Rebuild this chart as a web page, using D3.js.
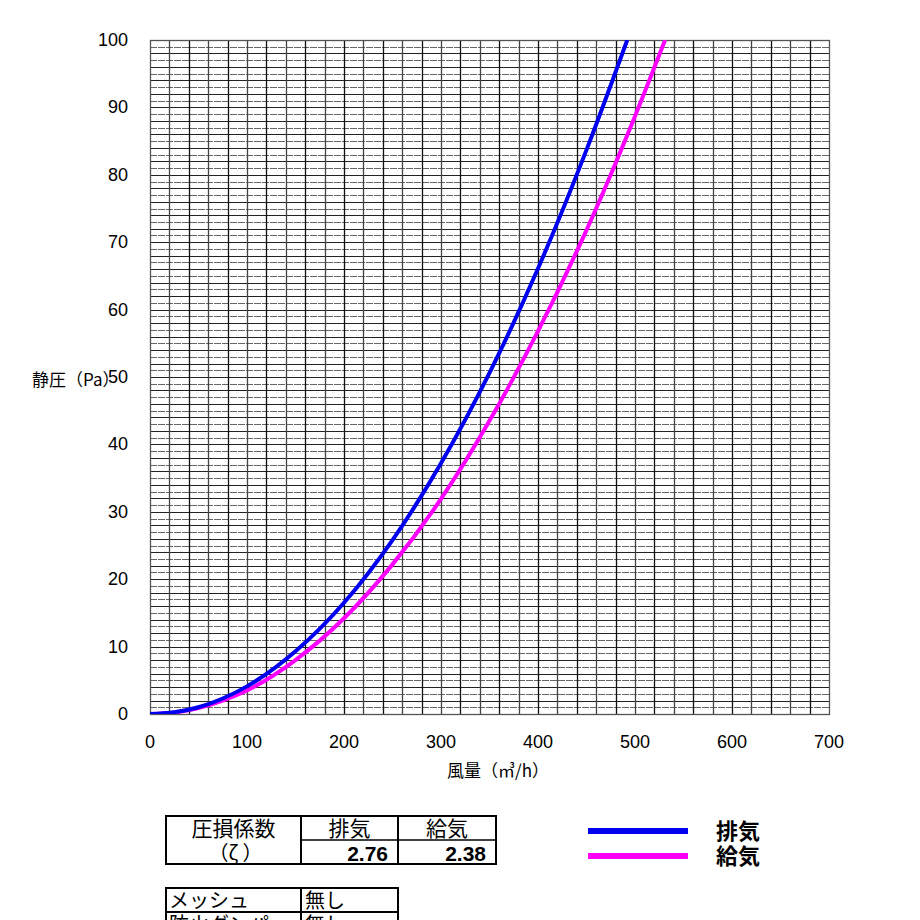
<!DOCTYPE html>
<html>
<head>
<meta charset="utf-8">
<script src="https://cdn.jsdelivr.net/npm/d3@7"></script>
<style>
  body { margin:0; background:#fff; }
  svg text { font-family: "Liberation Sans", Arial, "Noto Sans CJK JP", sans-serif; }
  .jp { font-family: "Noto Sans CJK JP", sans-serif; }
</style>
</head>
<body>
<svg id="chart" width="920" height="920"></svg>
<script>
// flow (m3/h) vs static pressure (Pa)
var exhaustFlow = [0, 25, 50, 75, 100, 150, 200, 250, 300, 350, 400, 450, 492];
var exhaustPa   = [0, 0.26, 1.0, 2.3, 4.1, 9.3, 16.5, 25.8, 37.2, 50.6, 66.1, 83.7, 100];
var supplyFlow  = [0, 25, 50, 75, 100, 150, 200, 250, 300, 350, 400, 450, 500, 531];
var supplyPa    = [0, 0.22, 0.9, 2.0, 3.5, 8.0, 14.2, 22.2, 31.9, 43.5, 56.8, 71.8, 88.7, 100];

var xTicks = [0, 100, 200, 300, 400, 500, 600, 700];
var yTicks = [0, 10, 20, 30, 40, 50, 60, 70, 80, 90, 100];

var seriesNames  = ["排気", "給気"];
var seriesColors = ["#0000f0", "#ff00ff"];
var zeta = ["2.76", "2.38"];
var options = [["メッシュ", "無し"], ["防火ダンパー", "無し"]];

var conf = {
    left:150, right:829, top:40, bottom:714
};

var svg = d3.select("#chart");

var x = d3.scaleLinear().domain([0, 700]).range([conf.left, conf.right]);
var y = d3.scaleLinear().domain([0, 100]).range([conf.bottom, conf.top]);

var grid = svg.append("g");
// horizontal grid every 1 Pa
d3.range(1, 100).forEach(function(v){
    grid.append("line")
        .attr("x1", conf.left).attr("x2", conf.right)
        .attr("y1", Math.round(y(v)) + 0.5).attr("y2", Math.round(y(v)) + 0.5)
        .attr("stroke", v % 2 === 0 ? "#222" : "#666")
        .attr("stroke-width", 1)
        .style("stroke-dasharray", v % 2 === 0 ? null : "7,1");
});
// vertical grid every 20 m3/h
d3.range(20, 700, 20).forEach(function(v){
    grid.append("line")
        .attr("y1", conf.top).attr("y2", conf.bottom)
        .attr("x1", Math.round(x(v)) + 0.5).attr("x2", Math.round(x(v)) + 0.5)
        .attr("stroke", v % 40 === 0 ? "#111" : "#444")
        .attr("stroke-width", 1.3);
});
grid.append("rect")
    .attr("x", conf.left + 0.5).attr("y", conf.top + 0.5)
    .attr("width", conf.right - conf.left).attr("height", conf.bottom - conf.top)
    .attr("fill", "none").attr("stroke", "#555").attr("stroke-width", 1.3);

// tick labels
svg.append("g").selectAll("text").data(yTicks).enter().append("text")
    .attr("x", 128).attr("y", function(d){ return y(d) + 6; })
    .attr("text-anchor", "end").attr("font-size", 18)
    .text(function(d){ return d; });
svg.append("g").selectAll("text").data(xTicks).enter().append("text")
    .attr("x", function(d){ return x(d); }).attr("y", 748)
    .attr("text-anchor", "middle").attr("font-size", 18)
    .text(function(d){ return d; });

// axis titles
svg.append("text").attr("class", "jp")
    .attr("x", 32).attr("y", 386).attr("font-size", 17)
    .text("静圧（Pa）");
svg.append("text").attr("class", "jp")
    .attr("x", 447).attr("y", 777).attr("font-size", 17)
    .text("風量（㎥/h）");

// curves
svg.append("defs").append("clipPath").attr("id", "plotclip")
    .append("rect").attr("x", conf.left).attr("y", conf.top)
    .attr("width", conf.right - conf.left).attr("height", conf.bottom - conf.top);

var line = d3.line().curve(d3.curveMonotoneX)
    .x(function(d){ return x(d[0]); })
    .y(function(d){ return y(d[1]); });

var curves = [d3.zip(exhaustFlow, exhaustPa), d3.zip(supplyFlow, supplyPa)];
// supply drawn first so exhaust sits on top
[1, 0].forEach(function(i){
    svg.append("path")
        .datum(curves[i])
        .attr("clip-path", "url(#plotclip)")
        .attr("fill", "none")
        .attr("stroke", seriesColors[i])
        .attr("stroke-width", 4)
        .attr("d", line);
});

// coefficient table
var t1 = svg.append("g");
var tbl = {x0:166, x1:301, x2:398, x3:496, y0:816, y1:840, y2:864};
t1.append("rect").attr("x", tbl.x0).attr("y", tbl.y0)
    .attr("width", tbl.x3 - tbl.x0).attr("height", tbl.y2 - tbl.y0)
    .attr("fill", "none").attr("stroke", "#000").attr("stroke-width", 2);
[tbl.x1, tbl.x2].forEach(function(cx){
    t1.append("line").attr("x1", cx).attr("x2", cx).attr("y1", tbl.y0).attr("y2", tbl.y2)
        .attr("stroke", "#000").attr("stroke-width", 2);
});
t1.append("line").attr("x1", tbl.x1).attr("x2", tbl.x3).attr("y1", tbl.y1).attr("y2", tbl.y1)
    .attr("stroke", "#000").attr("stroke-width", 1.5);
t1.append("text").attr("class", "jp").attr("x", (tbl.x0 + tbl.x1)/2).attr("y", 836)
    .attr("text-anchor", "middle").attr("font-size", 21).text("圧損係数");
t1.append("text").attr("class", "jp").attr("x", (tbl.x0 + tbl.x1)/2 + 2).attr("y", 860)
    .attr("text-anchor", "middle").attr("font-size", 20).text("（ζ ）");
seriesNames.forEach(function(n, i){
    var cx0 = i === 0 ? tbl.x1 : tbl.x2;
    var cx1 = i === 0 ? tbl.x2 : tbl.x3;
    t1.append("text").attr("class", "jp").attr("x", (cx0 + cx1)/2).attr("y", 836)
        .attr("text-anchor", "middle").attr("font-size", 21).text(n);
    t1.append("text").attr("x", cx1 - 10).attr("y", 861)
        .attr("text-anchor", "end").attr("font-size", 21).attr("font-weight", "bold")
        .text(zeta[i]);
});

// option table (cut off by the bottom edge)
var t2 = svg.append("g");
var ox = [166, 301, 398];
options.forEach(function(row, r){
    var ry = 888 + r*24;
    t2.append("rect").attr("x", ox[0]).attr("y", ry).attr("width", ox[2] - ox[0]).attr("height", 24)
        .attr("fill", "none").attr("stroke", "#000").attr("stroke-width", 2);
    t2.append("line").attr("x1", ox[1]).attr("x2", ox[1]).attr("y1", ry).attr("y2", ry + 24)
        .attr("stroke", "#000").attr("stroke-width", 2);
    t2.append("text").attr("class", "jp").attr("x", ox[0] + 3).attr("y", ry + 20)
        .attr("font-size", 20).text(row[0]);
    t2.append("text").attr("class", "jp").attr("x", ox[1] + 4).attr("y", ry + 20)
        .attr("font-size", 20).text(row[1]);
});

// legend
var lg = svg.append("g");
seriesNames.forEach(function(n, i){
    var ly = 831 + i*25;
    lg.append("line").attr("x1", 588).attr("x2", 688).attr("y1", ly).attr("y2", ly)
        .attr("stroke", seriesColors[i]).attr("stroke-width", 6);
    lg.append("text").attr("class", "jp").attr("x", 716).attr("y", ly + 8)
        .attr("font-size", 22).attr("font-weight", "bold").text(n);
});
</script>
</body>
</html>
